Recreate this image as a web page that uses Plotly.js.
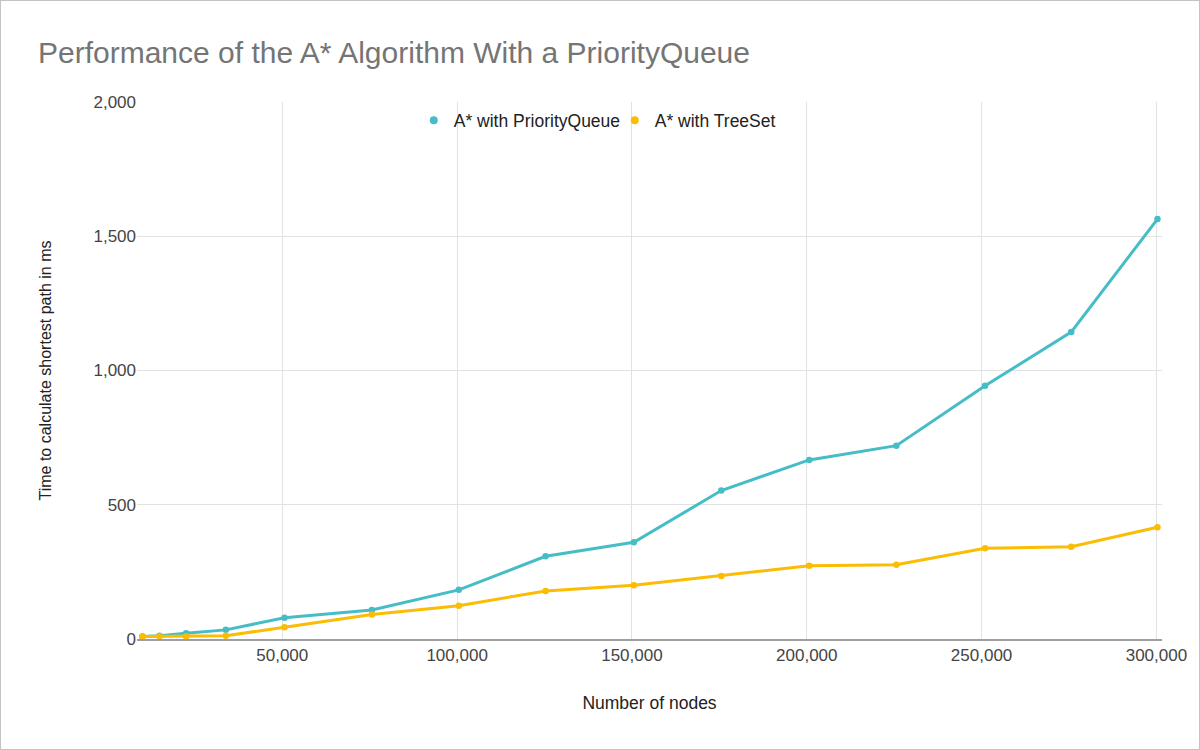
<!DOCTYPE html>
<html>
<head>
<meta charset="utf-8">
<script src="https://cdn.plot.ly/plotly-3.0.1.min.js"></script>
<style>
  body { margin: 0; background: #fff; }
  #wrap { position: relative; width: 1200px; height: 750px; }
  #frame { position: absolute; left: 0; top: 0; width: 1200px; height: 750px;
           box-sizing: border-box; border: 1px solid #c4c4c4; pointer-events: none; }
</style>
</head>
<body>
<div id="wrap">
  <div id="chart" style="width:1200px;height:750px;"></div>
  <div id="frame"></div>
</div>
<script>
// number of nodes (x) for every measurement
const nodes = [10000, 14884, 22500, 33856, 50625, 75625, 100489, 125316,
               150544, 175561, 200704, 225625, 251001, 275625, 300304];

// time in ms
const priorityQueueMs = [9, 12, 21, 34, 79, 108, 183, 308, 360, 553, 667, 720, 943, 1143, 1564];
const treeSetMs = [9, 10, 9, 12, 44, 91, 124, 179, 200, 235, 273, 277, 338, 344, 416];

const seriesNames = ["A* with PriorityQueue", "A* with TreeSet"];
const seriesColors = ["#46bdc6", "#fbbc04"];

const xTicks = [50000, 100000, 150000, 200000, 250000, 300000];
const yTicks = [0, 500, 1000, 1500, 2000];

const font = "Liberation Sans, Arial, sans-serif";

const seriesData = [priorityQueueMs, treeSetMs];
const traces = [];

// lines with dots, no legend entry (google sheets shows only a dot)
seriesData.forEach((ys, i) => {
  traces.push({
    x: nodes,
    y: ys,
    type: "scatter",
    mode: "lines+markers",
    name: seriesNames[i],
    showlegend: false,
    line: { color: seriesColors[i], width: 3 },
    marker: { color: seriesColors[i], size: 6.5 },
  });
});

// legend-only entries: just the dot
seriesNames.forEach((n, i) => {
  traces.push({
    x: [null],
    y: [null],
    type: "scatter",
    mode: "markers",
    name: n,
    marker: { color: seriesColors[i], size: 8 },
  });
});

const layout = {
  width: 1200,
  height: 750,
  margin: { l: 137, r: 38, t: 102, b: 111 },
  paper_bgcolor: "#fff",
  plot_bgcolor: "#fff",
  font: { family: font, color: "#444", size: 17 },
  title: {
    text: "Performance of the A* Algorithm With a PriorityQueue",
    x: 38 / 1200,
    xanchor: "left",
    xref: "container",
    y: 1 - 52 / 750,
    yanchor: "middle",
    yref: "container",
    font: { family: font, size: 30, color: "#757575" },
  },
  xaxis: {
    range: [8450, 301600],
    tickvals: xTicks,
    tickformat: ",d",
    showgrid: true,
    gridcolor: "#e2e2e2",
    zeroline: false,
    showline: true,
    linecolor: "#9e9e9e",
    linewidth: 1.5,
    ticks: "",
    tickfont: { size: 17, color: "#444" },
    title: { text: "Number of nodes", standoff: 33, font: { size: 17.5, color: "#222" } },
    fixedrange: true,
  },
  yaxis: {
    range: [0, 2000],
    tickvals: yTicks,
    tickformat: ",d",
    showgrid: true,
    gridcolor: "#e2e2e2",
    zeroline: false,
    showline: false,
    ticks: "",
    tickfont: { size: 17, color: "#444" },
    title: { text: "Time to calculate shortest path in ms", standoff: 37, font: { size: 16, color: "#222" } },
    fixedrange: true,
  },
  legend: {
    orientation: "h",
    x: 0.27,
    xanchor: "left",
    y: 0.966,
    yanchor: "middle",
    bgcolor: "rgba(0,0,0,0)",
    font: { size: 17.5, color: "#222" },
    itemwidth: 30,
    entrywidth: 156,
    entrywidthmode: "pixels",
    tracegroupgap: 0,
  },
  showlegend: true,
};

Plotly.newPlot("chart", traces, layout, { displayModeBar: false, staticPlot: true });
</script>
</body>
</html>
